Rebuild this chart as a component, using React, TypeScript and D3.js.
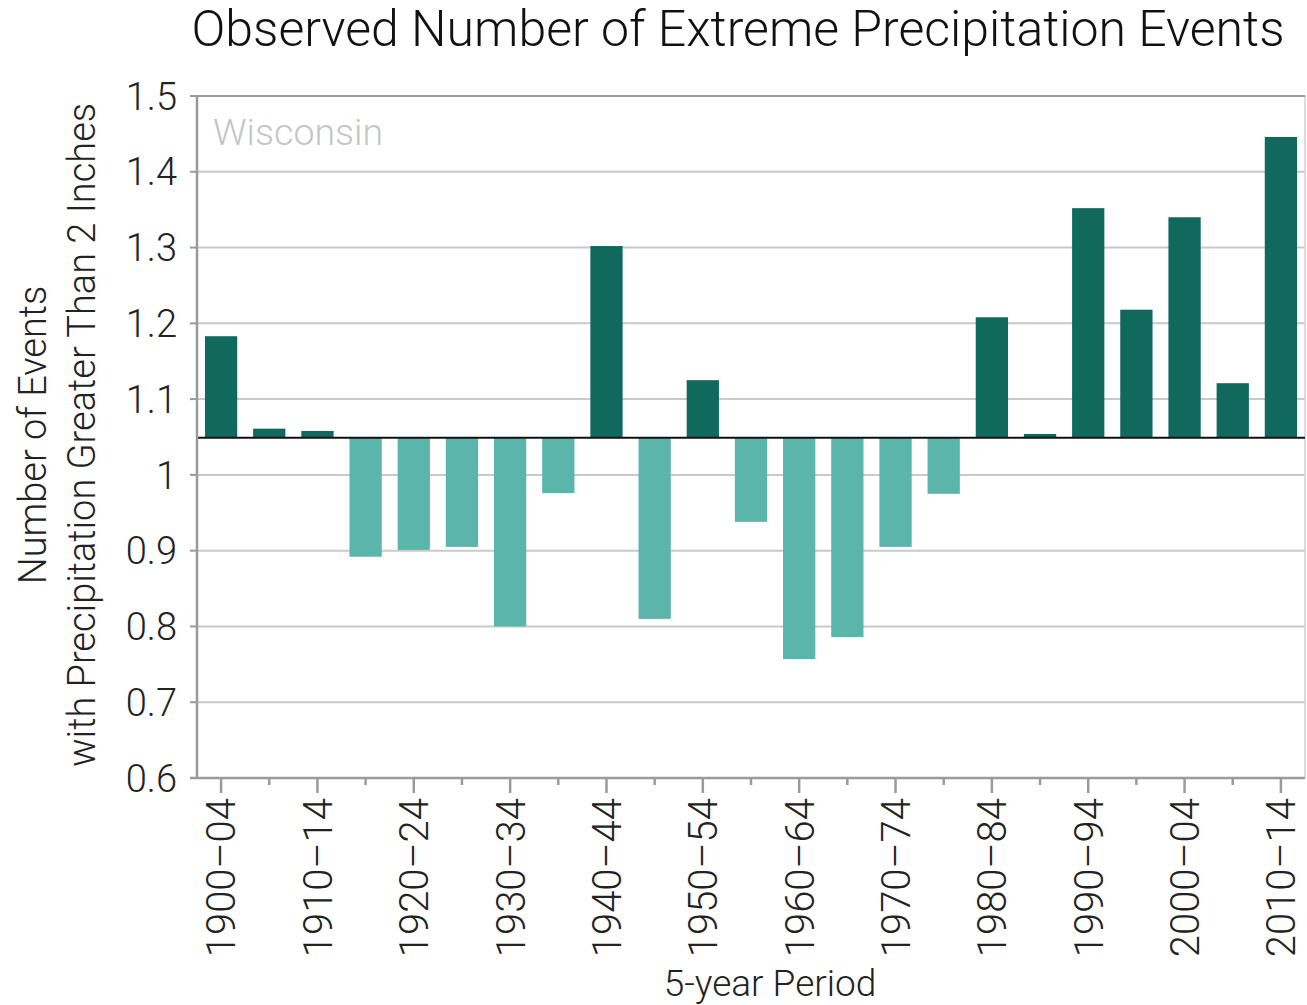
import React from "react";
import * as d3 from "d3";

const periods = [
  "1900–04", "1905–09", "1910–14", "1915–19", "1920–24", "1925–29", "1930–34", "1935–39",
  "1940–44", "1945–49", "1950–54", "1955–59", "1960–64", "1965–69", "1970–74", "1975–79",
  "1980–84", "1985–89", "1990–94", "1995–99", "2000–04", "2005–09", "2010–14",
];
const values = [
  1.183, 1.061, 1.058, 0.892, 0.901, 0.905, 0.80, 0.976,
  1.302, 0.81, 1.125, 0.938, 0.757, 0.786, 0.905, 0.975,
  1.208, 1.054, 1.352, 1.218, 1.340, 1.121, 1.446,
];
const baselineValue = 1.049;
const yTicks = [0.6, 0.7, 0.8, 0.9, 1, 1.1, 1.2, 1.3, 1.4, 1.5];

const W = 1307;
const H = 1005;
const left = 197;
const right = 1305;
const top = 96;
const bottom = 778;
const FONT = "Roboto, 'Noto Sans', sans-serif";

export default function App() {
  const x = d3.scaleBand<string>().domain(periods).range([left, right]).paddingInner(0.33).paddingOuter(0.165);
  const y = d3.scaleLinear().domain([0.6, 1.5]).range([bottom, top]);
  const y0 = y(baselineValue);
  const fmt = (v: number) => (v === 1 ? "1" : d3.format(".1f")(v));

  return (
    <svg width={W} height={H} style={{ position: "absolute", left: 0, top: 0, background: "#fff" }}
      fontFamily={FONT}>
      <text x={738} y={46} textAnchor="middle" fontSize={50} fontWeight={300} fill="#111">
        Observed Number of Extreme Precipitation Events
      </text>
      {/* grid */}
      {yTicks.slice(1).map((t) => (
        <line key={t} x1={left} x2={right} y1={y(t)} y2={y(t)} stroke="#c9c9c9" strokeWidth={2} />
      ))}
      <line x1={right} x2={right} y1={top} y2={bottom} stroke="#d0d0d0" strokeWidth={1.5} />
      <line x1={left} x2={right} y1={top} y2={top} stroke="#9a9a9a" strokeWidth={2} />
      {/* bars */}
      {values.map((v, i) => {
        const pos = v >= baselineValue;
        return (
          <rect key={i} x={x(periods[i])} width={x.bandwidth()}
            y={pos ? y(v) : y0} height={Math.abs(y(v) - y0)}
            fill={pos ? "#11695e" : "#5bb5aa"} />
        );
      })}
      <line x1={left} x2={right} y1={y0} y2={y0} stroke="#111" strokeWidth={2} />
      {/* axes */}
      <line x1={left} x2={left} y1={top} y2={bottom} stroke="#9a9a9a" strokeWidth={2.5} />
      <line x1={190} x2={right} y1={bottom} y2={bottom} stroke="#9a9a9a" strokeWidth={2.5} />
      {yTicks.map((t) => (
        <g key={t}>
          <line x1={190} x2={left} y1={y(t)} y2={y(t)} stroke="#9a9a9a" strokeWidth={2} />
          <text x={177} y={y(t)} dy="0.36em" textAnchor="end" fontSize={38} fontWeight={300} fill="#222">
            {fmt(t)}
          </text>
        </g>
      ))}
      {periods.map((p, i) => {
        const cx = (x(p) as number) + x.bandwidth() / 2;
        const major = i % 2 === 0;
        return (
          <g key={p}>
            <line x1={cx} x2={cx} y1={bottom} y2={bottom + (major ? 15 : 7)} stroke="#9a9a9a" strokeWidth={2.5} />
            {major && (
              <text transform={`translate(${cx},${bottom + 20}) rotate(-90)`} textAnchor="end" dy="0.36em"
                fontSize={40} fontWeight={300} fill="#222">
                {p}
              </text>
            )}
          </g>
        );
      })}
      <text x={213} y={145} fontSize={37.5} fontWeight={300} fill="#c4c4c4">Wisconsin</text>
      <text x={770} y={996} textAnchor="middle" fontSize={37} fontWeight={300} fill="#222">5-year Period</text>
      <g transform="translate(0,435) rotate(-90)">
        <text x={0} y={46} textAnchor="middle" fontSize={38} fontWeight={300} fill="#222">Number of Events</text>
        <text x={0} y={95} textAnchor="middle" fontSize={38} fontWeight={300} fill="#222">
          with Precipitation Greater Than 2 Inches
        </text>
      </g>
    </svg>
  );
}
